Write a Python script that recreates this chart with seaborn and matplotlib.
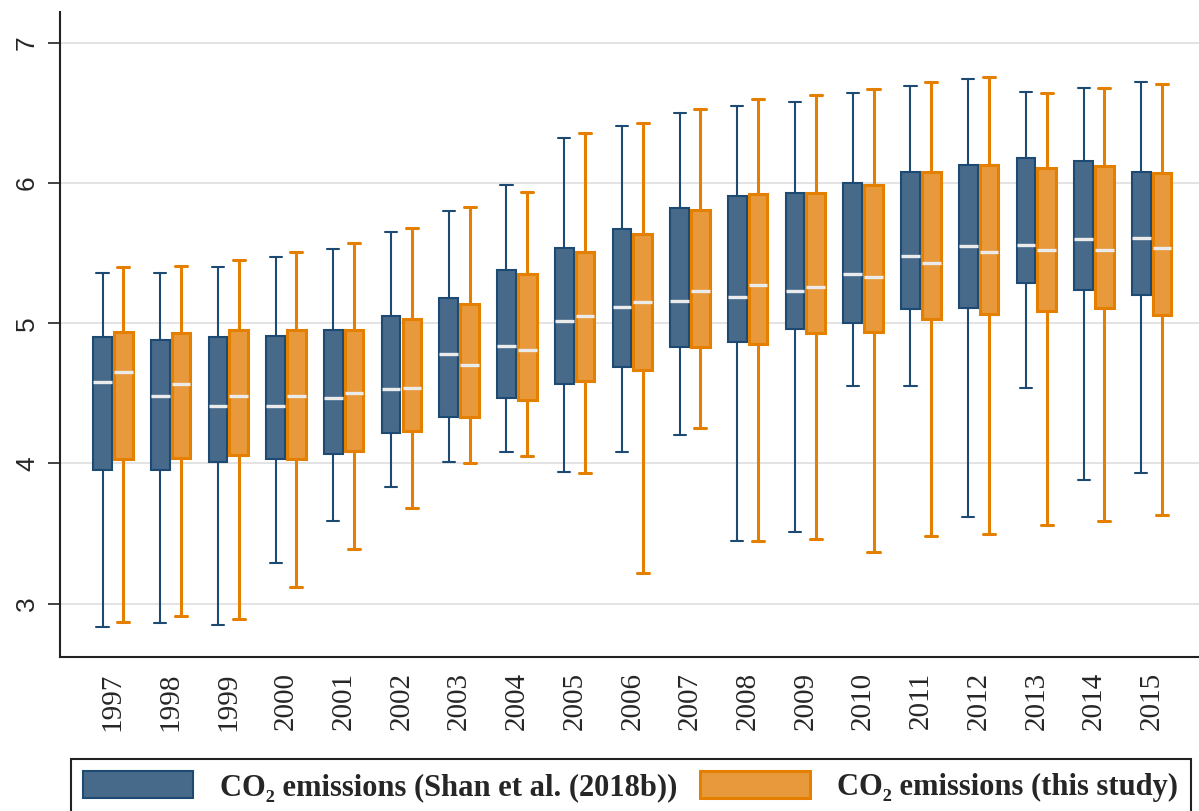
import numpy as np
import pandas as pd
import matplotlib
matplotlib.use("Agg")
import matplotlib.pyplot as plt
import seaborn as sns
from matplotlib.patches import Patch

# ---------------- data ----------------
years = [str(y) for y in range(1997, 2016)]
series_names = ["CO\u2082 emissions (Shan et al. (2018b))", "CO\u2082 emissions (this study)"]

# Shan et al. (2018b)
shan_min = [2.83, 2.86, 2.85, 3.29, 3.59, 3.83, 4.01, 4.08, 3.94, 4.08,
            4.20, 3.45, 3.51, 4.55, 4.55, 3.62, 4.54, 3.88, 3.93]
shan_q1 = [3.95, 3.95, 4.01, 4.03, 4.07, 4.22, 4.33, 4.47, 4.57, 4.69,
           4.83, 4.87, 4.96, 5.00, 5.10, 5.11, 5.29, 5.24, 5.20]
shan_med = [4.58, 4.48, 4.41, 4.41, 4.47, 4.53, 4.78, 4.84, 5.02, 5.12,
            5.16, 5.19, 5.23, 5.35, 5.48, 5.55, 5.56, 5.60, 5.61]
shan_q3 = [4.90, 4.88, 4.90, 4.91, 4.95, 5.05, 5.18, 5.38, 5.54, 5.67,
           5.82, 5.91, 5.93, 6.00, 6.08, 6.13, 6.18, 6.16, 6.08]
shan_max = [5.36, 5.36, 5.40, 5.47, 5.53, 5.65, 5.80, 5.99, 6.32, 6.41,
            6.50, 6.55, 6.58, 6.64, 6.69, 6.74, 6.65, 6.68, 6.72]

# This study
this_min = [2.87, 2.91, 2.89, 3.12, 3.39, 3.68, 4.00, 4.05, 3.93, 3.22,
            4.25, 3.45, 3.46, 3.37, 3.48, 3.50, 3.56, 3.59, 3.63]
this_q1 = [4.03, 4.04, 4.06, 4.03, 4.09, 4.23, 4.33, 4.45, 4.59, 4.67,
           4.83, 4.85, 4.93, 4.94, 5.03, 5.07, 5.09, 5.11, 5.06]
this_med = [4.65, 4.57, 4.48, 4.48, 4.50, 4.54, 4.70, 4.81, 5.05, 5.15,
            5.23, 5.27, 5.26, 5.33, 5.43, 5.51, 5.52, 5.52, 5.54]
this_q3 = [4.94, 4.93, 4.95, 4.95, 4.95, 5.03, 5.14, 5.35, 5.51, 5.64,
           5.81, 5.92, 5.93, 5.99, 6.08, 6.13, 6.11, 6.12, 6.07]
this_max = [5.40, 5.41, 5.45, 5.51, 5.57, 5.68, 5.83, 5.94, 6.36, 6.43,
            6.53, 6.60, 6.63, 6.67, 6.72, 6.76, 6.64, 6.68, 6.71]

yticks = [3, 4, 5, 6, 7]

# five points per box -> quartiles of 5 points are exactly the 2nd/3rd/4th values
rows = []
for name, parts in [(series_names[0], (shan_min, shan_q1, shan_med, shan_q3, shan_max)),
                    (series_names[1], (this_min, this_q1, this_med, this_q3, this_max))]:
    for i, yr in enumerate(years):
        for arr in parts:
            rows.append({"year": yr, "value": arr[i], "series": name})
df = pd.DataFrame(rows)

# ---------------- style ----------------
sns.set_style("white")
plt.rcParams["font.family"] = ["Liberation Serif", "DejaVu Serif"]

blue_fill, blue_edge = "#476a8b", "#1c4a73"
orange_fill, orange_edge = "#e8993b", "#e57f00"
palette = {series_names[0]: blue_fill, series_names[1]: orange_fill}

fig, ax = plt.subplots(figsize=(11.99, 8.11), dpi=100)
fig.subplots_adjust(left=0.05, right=1.0, bottom=0.19, top=0.985)

for name, edge, lw in [(series_names[0], blue_edge, 1.5), (series_names[1], orange_edge, 2.2)]:
    sub = df[df["series"] == name]
    sns.boxplot(data=sub, x="year", y="value", hue="series", hue_order=series_names,
                order=years, palette=palette, saturation=1, linecolor=edge,
                linewidth=lw, width=0.72, gap=0.1, dodge=True, whis=np.inf, legend=False,
                medianprops=dict(color="#ebebeb", linewidth=2.4),
                capwidths=0.21, ax=ax)

ax.set_xlim(-0.918, 18.82)
ax.set_ylim(2.62, 7.22)
ax.set_yticks(yticks)
ax.set_yticklabels([str(t) for t in yticks])
ax.yaxis.grid(True, color="#e3e3e3", linewidth=1.4)
ax.xaxis.grid(False)
ax.set_axisbelow(True)
for s in ["top", "right"]:
    ax.spines[s].set_visible(False)
for s in ["left", "bottom"]:
    ax.spines[s].set_color("#222222")
    ax.spines[s].set_linewidth(1.5)
ax.set_xlabel("")
ax.set_ylabel("")

ax.tick_params(axis="y", length=9, width=1.2, color="#222222", pad=6,
               labelsize=19, labelrotation=90, left=True)
ax.tick_params(axis="x", length=0, pad=11, labelsize=21, labelrotation=90)
for lab in ax.get_yticklabels():
    lab.set_fontfamily(["Liberation Sans", "DejaVu Sans"])
    lab.set_va("center")
for lab in ax.get_xticklabels():
    lab.set_fontfamily(["Liberation Serif", "DejaVu Serif"])

handles = [Patch(facecolor=blue_fill, edgecolor=blue_edge, linewidth=1.5),
           Patch(facecolor=orange_fill, edgecolor=orange_edge, linewidth=2.2)]
leg = fig.legend(handles, series_names, loc="upper left",
                 bbox_to_anchor=(0.059, 0.0, 0.934, 0.064), mode="expand", ncol=2,
                 prop=dict(family=["Liberation Serif", "DejaVu Serif"], weight="bold", size=22),
                 handlelength=3.6, handleheight=0.98, handletextpad=0.88,
                 borderpad=0.4, borderaxespad=0, fancybox=False,
                 edgecolor="#222222", framealpha=1)
leg.get_frame().set_linewidth(1.5)

fig.savefig("out.png", dpi=100)
